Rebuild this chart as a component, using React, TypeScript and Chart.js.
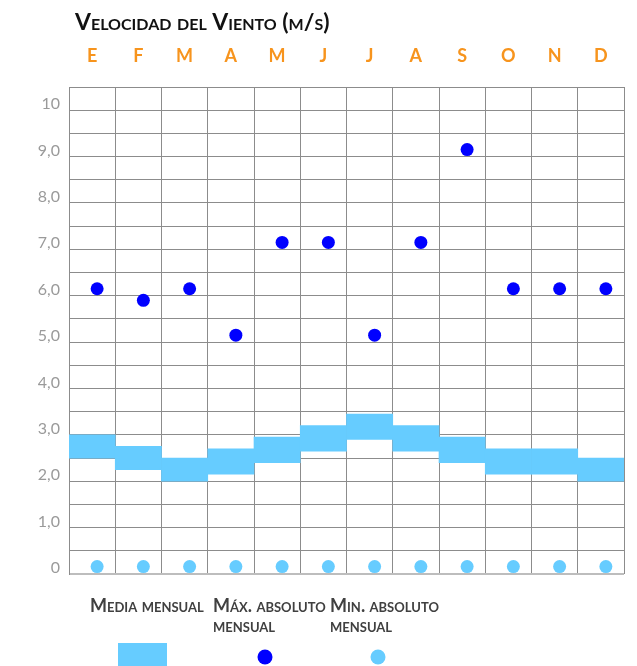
import React, { useEffect, useRef } from 'react';
import { Chart, registerables } from 'chart.js';

Chart.register(...registerables);

const titleText = 'Velocidad del Viento (m/s)';
const months = ['E', 'F', 'M', 'A', 'M', 'J', 'J', 'A', 'S', 'O', 'N', 'D'];
const mediaLow = [2.5, 2.25, 2.0, 2.15, 2.4, 2.65, 2.9, 2.65, 2.4, 2.15, 2.15, 2.0];
const mediaHigh = [3.0, 2.75, 2.5, 2.7, 2.95, 3.2, 3.45, 3.2, 2.95, 2.7, 2.7, 2.5];
const maxAbs = [6.15, 5.9, 6.15, 5.15, 7.15, 7.15, 5.15, 7.15, 9.15, 6.15, 6.15, 6.15];
const minAbs = [0.16, 0.16, 0.16, 0.16, 0.16, 0.16, 0.16, 0.16, 0.16, 0.16, 0.16, 0.16];
const yTickLabels = ['0', '1,0', '2,0', '3,0', '4,0', '5,0', '6,0', '7,0', '8,0', '9,0', '10'];
const legendMedia = ['Media mensual'];
const legendMax = ['Máx. absoluto', 'mensual'];
const legendMin = ['Min. absoluto', 'mensual'];

const COL_MEDIA = '#66CCFF';
const COL_MAX = '#0000FF';
const COL_MIN = '#66CCFF';
const GRID = '#8c8c8c';
const BASE = '#bdbdbd';

const overlayPlugin = {
  id: 'overlay',
  afterDraw(chart: any) {
    const ctx: CanvasRenderingContext2D = chart.ctx;
    ctx.save();
    const setFont = (size: number) => {
      ctx.font = `small-caps bold ${size}px Lato`;
      try {
        (ctx as any).fontVariantCaps = 'small-caps';
      } catch (e) {}
    };
    ctx.textAlign = 'left';
    ctx.textBaseline = 'alphabetic';
    // title
    ctx.fillStyle = '#111111';
    setFont(23);
    ctx.fillText(titleText, 75, 30);
    // legend texts
    ctx.fillStyle = '#404040';
    setFont(18);
    legendMedia.forEach((t, i) => ctx.fillText(t, 90, 612 + i * 20));
    legendMax.forEach((t, i) => ctx.fillText(t, 213, 612 + i * 20));
    legendMin.forEach((t, i) => ctx.fillText(t, 330, 612 + i * 20));
    // legend markers
    ctx.fillStyle = COL_MEDIA;
    ctx.fillRect(118, 643, 49, 30);
    ctx.fillStyle = COL_MAX;
    ctx.beginPath();
    ctx.arc(265, 657, 7.5, 0, Math.PI * 2);
    ctx.fill();
    ctx.fillStyle = COL_MIN;
    ctx.beginPath();
    ctx.arc(378, 657, 7.5, 0, Math.PI * 2);
    ctx.fill();
    ctx.restore();
  },
};

export default function App() {
  const ref = useRef<HTMLCanvasElement>(null);
  useEffect(() => {
    const canvas = ref.current!;
    const chart = new Chart(canvas, {
      type: 'bar',
      data: {
        labels: months,
        datasets: [
          {
            type: 'scatter',
            label: 'Máx. absoluto mensual',
            data: maxAbs.map((v, i) => ({ x: i, y: v })),
            backgroundColor: COL_MAX,
            borderWidth: 0,
            pointRadius: 6.5,
            xAxisID: 'xp',
            yAxisID: 'y',
            order: 1,
          } as any,
          {
            type: 'scatter',
            label: 'Min. absoluto mensual',
            data: minAbs.map((v, i) => ({ x: i, y: v })),
            backgroundColor: COL_MIN,
            borderWidth: 0,
            pointRadius: 6.5,
            xAxisID: 'xp',
            yAxisID: 'y',
            order: 2,
          } as any,
          {
            type: 'bar',
            label: 'Media mensual',
            data: mediaLow.map((l, i) => [l, mediaHigh[i]]),
            backgroundColor: COL_MEDIA,
            borderWidth: 0,
            barPercentage: 1,
            categoryPercentage: 1,
            grouped: false,
            xAxisID: 'x',
            yAxisID: 'y',
            order: 3,
          } as any,
        ],
      },
      options: {
        responsive: false,
        animation: false,
        devicePixelRatio: 1,
        layout: { padding: { left: 0, top: 0, right: 13, bottom: 92 } },
        plugins: {
          legend: { display: false },
          tooltip: { enabled: false },
          title: { display: false },
        },
        scales: {
          x: {
            type: 'category',
            position: 'top',
            offset: true,
            grid: { offset: true, color: GRID, drawTicks: false, lineWidth: 1 },
            border: { display: true, color: GRID },
            ticks: {
              color: '#F7941D',
              font: { family: 'Lato', weight: 'bold', size: 18 },
              padding: 20,
              maxRotation: 0,
              autoSkip: false,
            },
            afterFit: (s: any) => {
              s.height = 87;
            },
          },
          xp: {
            type: 'linear',
            display: false,
            offset: false,
            grid: { offset: false },
            min: -0.608,
            max: 11.392,
          },
          y: {
            type: 'linear',
            min: 0,
            max: 10.5,
            grid: {
              color: (c: any) => (c.tick && c.tick.value === 0 ? BASE : GRID),
              lineWidth: (c: any) => (c.tick && c.tick.value === 0 ? 2 : 1),
              drawTicks: false,
            },
            border: { display: true, color: GRID },
            ticks: {
              stepSize: 0.5,
              autoSkip: false,
              maxTicksLimit: 40,
              callback: (v: any) => (Number.isInteger(v) ? yTickLabels[v] : ''),
              color: '#9a9a9a',
              font: { family: 'Lato', size: 16 },
              padding: 9,
              labelOffset: -6,
            },
            afterFit: (s: any) => {
              s.width = 69;
            },
          },
        },
      } as any,
      plugins: [overlayPlugin],
    });
    return () => chart.destroy();
  }, []);
  return (
    <div style={{ position: 'fixed', left: 0, top: 0, width: 637, height: 666, background: '#ffffff' }}>
      <canvas ref={ref} width={637} height={666} style={{ display: 'block', width: 637, height: 666 }} />
    </div>
  );
}
